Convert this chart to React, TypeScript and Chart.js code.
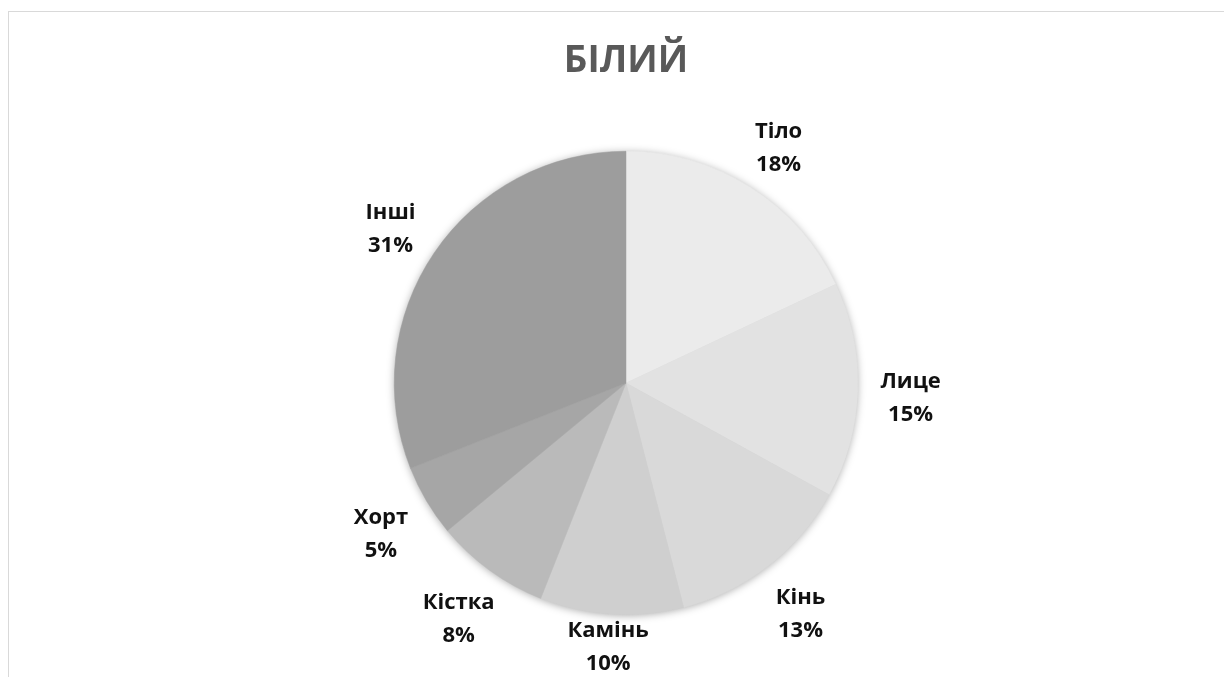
import React, { useEffect, useRef } from "react";
import { Chart, registerables } from "chart.js";

Chart.register(...registerables);

const title = "БІЛИЙ";
const categories = ["Тіло", "Лице", "Кінь", "Камінь", "Кістка", "Хорт", "Інші"];
const values = [18, 15, 13, 10, 8, 5, 31];
const sliceColors = ["#ebebeb", "#e2e2e2", "#d9d9d9", "#cfcfcf", "#bababa", "#a6a6a6", "#9d9d9d"];

const FONT = "'Open Sans', 'DejaVu Sans', sans-serif";

const shadowPlugin = {
  id: "pieShadow",
  beforeDatasetsDraw(chart: any) {
    const meta = chart.getDatasetMeta(0);
    const arc = meta.data[0];
    if (!arc) return;
    const { x, y, outerRadius } = arc.getProps(["x", "y", "outerRadius"], true);
    const ctx = chart.ctx;
    ctx.save();
    ctx.shadowColor = "rgba(0,0,0,0.35)";
    ctx.shadowBlur = 9;
    ctx.shadowOffsetX = 0;
    ctx.shadowOffsetY = 1;
    ctx.beginPath();
    ctx.arc(x, y, outerRadius - 0.5, 0, Math.PI * 2);
    ctx.fillStyle = "#cccccc";
    ctx.fill();
    ctx.restore();
  },
};

const labelPlugin = {
  id: "outsideLabels",
  afterDatasetsDraw(chart: any) {
    const meta = chart.getDatasetMeta(0);
    const ds = chart.data.datasets[0];
    const total = (ds.data as number[]).reduce((a, b) => a + b, 0);
    const ctx = chart.ctx;
    const lineGap = 33;
    ctx.save();
    ctx.font = `bold 22px ${FONT}`;
    ctx.fillStyle = "#111111";
    ctx.textAlign = "center";
    ctx.textBaseline = "middle";
    meta.data.forEach((el: any, i: number) => {
      const { x, y, startAngle, endAngle, outerRadius } = el.getProps(
        ["x", "y", "startAngle", "endAngle", "outerRadius"],
        true
      );
      const mid = (startAngle + endAngle) / 2;
      const d = outerRadius + 53;
      const cx = x + Math.cos(mid) * d;
      let cy = y + Math.sin(mid) * d + 6;
      const maxCy = chart.height - lineGap / 2 - 13;
      if (cy > maxCy) cy = maxCy;
      const pct = Math.round((ds.data[i] / total) * 100) + "%";
      ctx.fillText(String(chart.data.labels[i]), cx, cy - lineGap / 2);
      ctx.fillText(pct, cx, cy + lineGap / 2);
    });
    ctx.restore();
  },
};

const titlePlugin = {
  id: "topTitle",
  afterDraw(chart: any) {
    const ctx = chart.ctx;
    ctx.save();
    ctx.font = `bold 37px ${FONT}`;
    ctx.fillStyle = "#595959";
    ctx.textAlign = "center";
    ctx.textBaseline = "alphabetic";
    const area = chart.chartArea;
    ctx.fillText(title, (area.left + area.right) / 2, 60);
    ctx.restore();
  },
};

export default function App() {
  const canvasRef = useRef<HTMLCanvasElement | null>(null);

  useEffect(() => {
    if (!canvasRef.current) return;
    const chart = new Chart(canvasRef.current, {
      type: "pie",
      data: {
        labels: categories,
        datasets: [
          {
            data: values,
            backgroundColor: sliceColors,
            borderColor: sliceColors,
            borderWidth: 0.5,
          },
        ],
      },
      options: {
        animation: false,
        responsive: false,
        maintainAspectRatio: false,
        layout: { padding: { top: 139, bottom: 62, left: 385, right: 374 } },
        plugins: {
          legend: { display: false },
          title: { display: false },
          tooltip: { enabled: false },
        },
      },
      plugins: [shadowPlugin, labelPlugin, titlePlugin],
    });
    return () => chart.destroy();
  }, []);

  return (
    <div
      style={{
        marginTop: 3,
        width: 1223,
        height: 665,
        borderTop: "1px solid #d9d9d9",
        borderLeft: "1px solid #d9d9d9",
        background: "#ffffff",
        overflow: "hidden",
      }}
    >
      <canvas ref={canvasRef} width={1223} height={665} style={{ display: "block" }} />
    </div>
  );
}
